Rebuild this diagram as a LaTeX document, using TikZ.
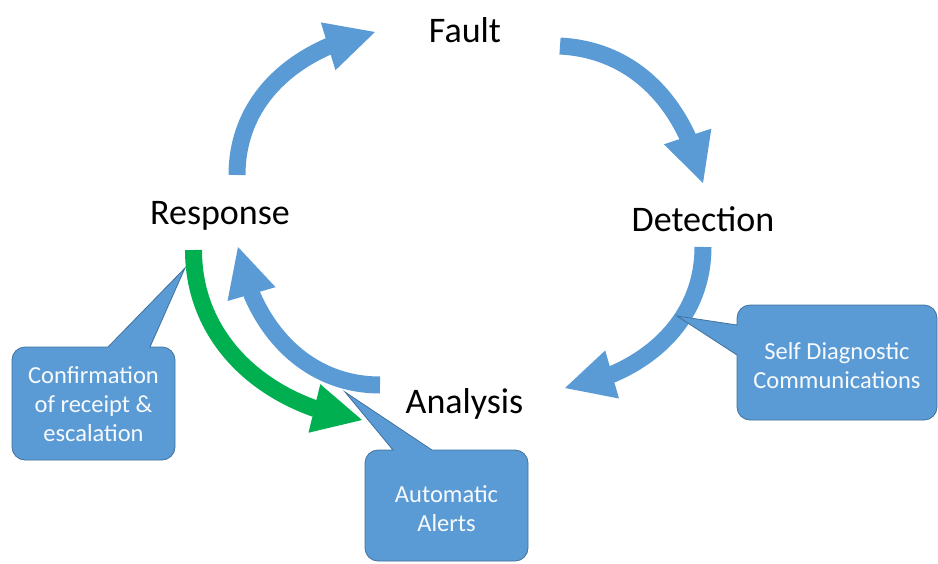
\documentclass[tikz,border=0pt]{standalone}
\usepackage{fontspec}
\setmainfont{Carlito}
\usetikzlibrary{arrows.meta,bending}
\definecolor{ablue}{RGB}{91,155,213}
\definecolor{aedge}{RGB}{65,113,156}
\definecolor{agreen}{RGB}{0,176,80}
\begin{document}
\begin{tikzpicture}[x=1pt,y=1pt,
  lbl/.style={font=\fontsize{36}{43}\selectfont, anchor=base, inner sep=0pt},
  flow/.style={ablue, line width=17pt, -{Triangle[length=49pt,width=50pt,line width=0pt]}},
  greenflow/.style={flow, agreen},
  callout/.style={fill=ablue, draw=aedge, line width=0.8pt, line join=miter},
  ctext/.style={font=\fontsize{24.5}{29}\selectfont, text=white!95!ablue, align=center, inner sep=0pt}]
\useasboundingbox (0,0) rectangle (938,-563);

% stage labels
\node[lbl] (fault) at (465,-42) {Fault};
\node[lbl] (detect) at (703,-231) {Detection};
\node[lbl] (analysis) at (464.5,-413) {Analysis};
\node[lbl] (response) at (220,-224) {Response};

% arrow end points
\coordinate (a1) at (237,-175);   \coordinate (a2) at (375,-32);
\coordinate (b1) at (560,-46);    \coordinate (b2) at (703,-183);
\coordinate (c1) at (703,-247);   \coordinate (c2) at (565,-388);
\coordinate (d1) at (380,-385);   \coordinate (d2) at (238,-247);
\coordinate (g1) at (193.5,-250); \coordinate (g2) at (362,-420);

\draw[flow] (a1) to[out=90,in=191] (a2);
\draw[flow] (b1) to[out=-3,in=102.5] (b2);
\draw[flow] (c1) to[out=-90,in=9.6] (c2);
\draw[flow] (d1) to[out=180,in=-80.5] (d2);
\draw[greenflow] (g1) to[out=-90,in=172] (g2);

% callouts
\path[callout] (175,-400) [rounded corners=13pt] -- (175,-460) -- (12,-460) -- (12,-347)
  [sharp corners] -- (108,-347) -- (185,-268) -- (150,-347)
  [rounded corners=13pt] -- (175,-347) -- cycle;
\node[ctext] (conf) at (93.5,-404) {Confirmation\\of receipt \&\\escalation};

\path[callout] (837,-305) [rounded corners=13pt] -- (937,-305) -- (937,-420) -- (737,-420)
  [sharp corners] -- (737,-355) -- (677,-316) -- (737,-325)
  [rounded corners=13pt] -- (737,-305) -- cycle;
\node[ctext] (selfd) at (837,-366) {Self Diagnostic\\Communications};

\path[callout] (446,-561) [rounded corners=13pt] -- (365,-561) -- (365,-450)
  [sharp corners] -- (393,-450) -- (345,-392) -- (432,-450)
  [rounded corners=13pt] -- (528,-450) -- (528,-561) -- cycle;
\node[ctext] (auto) at (446.5,-509) {Automatic\\Alerts};
\end{tikzpicture}
\end{document}
